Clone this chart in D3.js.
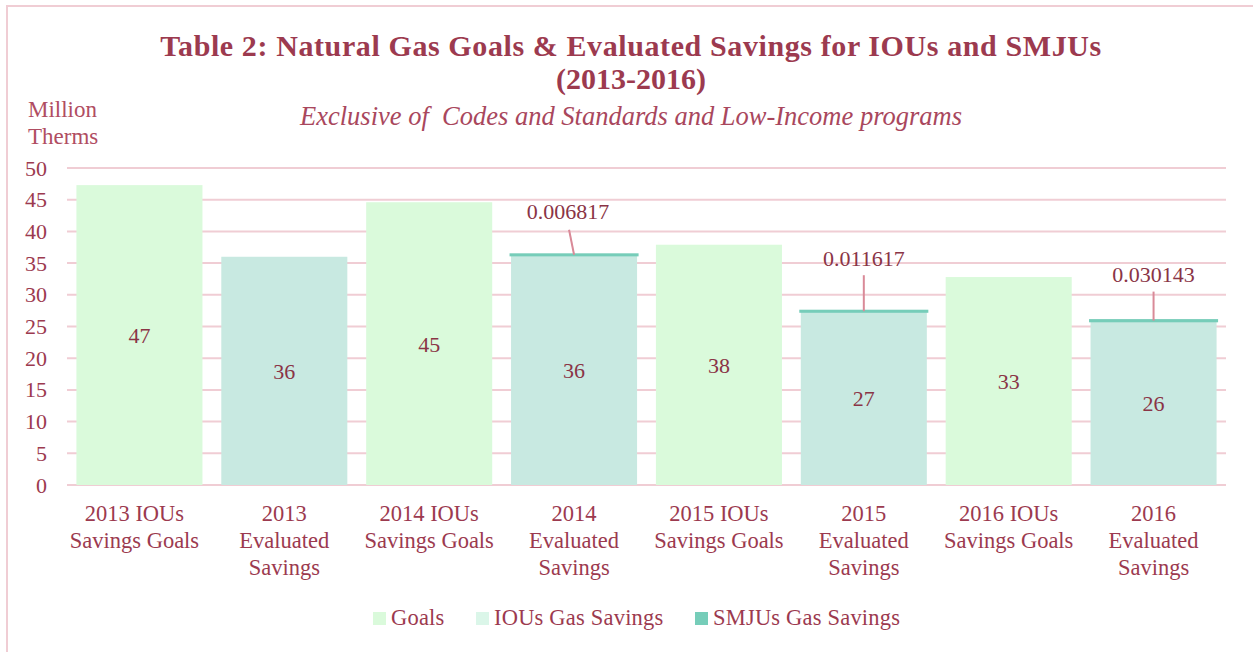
<!DOCTYPE html>
<html>
<head>
<meta charset="utf-8">
<script src="https://cdn.jsdelivr.net/npm/d3@7"></script>
<style>
  body { margin: 0; background: #fff; }
  svg text { font-family: "Liberation Serif", "DejaVu Serif", serif; }
</style>
</head>
<body>
<div id="chart"></div>
<script>
// data
var categories = ["2013 IOUs Savings Goals", "2013 Evaluated Savings", "2014 IOUs Savings Goals", "2014 Evaluated Savings",
                  "2015 IOUs Savings Goals", "2015 Evaluated Savings", "2016 IOUs Savings Goals", "2016 Evaluated Savings"];
var catLines = [["2013 IOUs", "Savings Goals"], ["2013", "Evaluated", "Savings"], ["2014 IOUs", "Savings Goals"], ["2014", "Evaluated", "Savings"],
                ["2015 IOUs", "Savings Goals"], ["2015", "Evaluated", "Savings"], ["2016 IOUs", "Savings Goals"], ["2016", "Evaluated", "Savings"]];
var goals = [47.3, 0, 44.6, 0, 37.9, 0, 32.8, 0];
var iousSavings = [0, 36.0, 0, 36.3, 0, 27.4, 0, 25.9];
var smjusSavings = [0, 0, 0, 0.006817, 0, 0.011617, 0, 0.030143];
var yTicks = [0, 5, 10, 15, 20, 25, 30, 35, 40, 45, 50];
var seriesNames = ["Goals", "IOUs Gas Savings", "SMJUs Gas Savings"];

var W = 1253, H = 652;
var margin = {top: 168, right: 27, bottom: 167, left: 67};
var width = W - margin.left - margin.right;
var height = H - margin.top - margin.bottom;

var textColor = "#9c3a4f";
var gridColor = "#f0cdd4";
var colGoals = "#dafadb", colIous = "#c8e9e1", colIousKey = "#dbf6e9", colSmju = "#76cdb9";

var svg = d3.select("#chart").append("svg")
  .attr("width", W).attr("height", H);

// outer frame
svg.append("rect")
  .attr("x", 7).attr("y", 6).attr("width", W).attr("height", H)
  .attr("fill", "none").attr("stroke", "#f0cdd4").attr("stroke-width", 2);

var g = svg.append("g").attr("transform", "translate(" + margin.left + "," + margin.top + ")");

var x = d3.scaleBand().domain(categories).range([0, width]).paddingInner(0.13).paddingOuter(0.065);
var y = d3.scaleLinear().domain([0, 50]).range([height, 0]);

// gridlines
g.selectAll(".grid").data(yTicks).enter().append("line")
  .attr("x1", 0).attr("x2", width)
  .attr("y1", function(d) { return y(d); }).attr("y2", function(d) { return y(d); })
  .attr("stroke", gridColor).attr("stroke-width", 2);

// y axis labels
var yAxis = g.append("g")
  .call(d3.axisLeft(y).tickValues(yTicks).tickSize(0).tickPadding(20));
yAxis.select(".domain").remove();
yAxis.selectAll("text")
  .style("font-size", "22px").style("fill", textColor)
  .style("font-family", "'Liberation Serif', serif");

// bars
var data = categories.map(function(c, i) {
  return {cat: c, goal: goals[i], ious: iousSavings[i], smju: smjusSavings[i]};
});

g.selectAll(".goal").data(data.filter(function(d) { return d.goal > 0; })).enter().append("rect")
  .attr("x", function(d) { return x(d.cat); })
  .attr("width", x.bandwidth())
  .attr("y", function(d) { return y(d.goal); })
  .attr("height", function(d) { return y(0) - y(d.goal); })
  .attr("fill", colGoals);

g.selectAll(".ious").data(data.filter(function(d) { return d.ious > 0; })).enter().append("rect")
  .attr("x", function(d) { return x(d.cat); })
  .attr("width", x.bandwidth())
  .attr("y", function(d) { return y(d.ious); })
  .attr("height", function(d) { return y(0) - y(d.ious); })
  .attr("fill", colIous);

var smjuData = data.filter(function(d) { return d.smju > 0; });
g.selectAll(".smju").data(smjuData).enter().append("rect")
  .attr("x", function(d) { return x(d.cat); })
  .attr("width", x.bandwidth())
  .attr("y", function(d) { return y(d.ious + d.smju); })
  .attr("height", function(d) { return y(d.ious) - y(d.ious + d.smju); })
  .attr("fill", colSmju).attr("stroke", colSmju).attr("stroke-width", 3);

// value labels inside bars
g.selectAll(".val").data(data).enter().append("text")
  .attr("x", function(d) { return x(d.cat) + x.bandwidth() / 2; })
  .attr("y", function(d) { var v = d.goal + d.ious; return y(v / 2) + 8; })
  .attr("text-anchor", "middle")
  .style("font-size", "22px").style("fill", "#8a3446")
  .text(function(d) { return d3.format(".0f")(d.goal + d.ious); });

// callouts for SMJU values
var callOffsets = [{dx: -5, dy: -25, ty: -36, tx: -6}, {dx: 0, dy: -36, ty: -45, tx: 0}, {dx: 0, dy: -29, ty: -39, tx: 0}];
smjuData.forEach(function(d, i) {
  var cx = x(d.cat) + x.bandwidth() / 2;
  var top = y(d.ious + d.smju);
  g.append("line")
    .attr("x1", cx).attr("y1", top)
    .attr("x2", cx + callOffsets[i].dx).attr("y2", top + callOffsets[i].dy)
    .attr("stroke", "#d98a98").attr("stroke-width", 2);
  g.append("text")
    .attr("x", cx + callOffsets[i].tx).attr("y", top + callOffsets[i].ty)
    .attr("text-anchor", "middle")
    .style("font-size", "22px").style("fill", "#8a3446")
    .text(d.smju);
});

// x labels
var xl = g.selectAll(".xl").data(categories).enter().append("text")
  .attr("x", function(d) { return x(d) + x.bandwidth() / 2; })
  .attr("y", height + 36)
  .attr("text-anchor", "middle")
  .style("font-size", "22.5px").style("fill", textColor);
xl.each(function(d, i) {
  var t = d3.select(this);
  var cx = x(d) + x.bandwidth() / 2 - (i === 0 ? 5 : 0);
  catLines[i].forEach(function(l, j) {
    t.append("tspan").attr("x", cx).attr("dy", j === 0 ? 0 : 27).text(l);
  });
});

// titles
svg.append("text").attr("x", 631).attr("y", 56).attr("text-anchor", "middle")
  .style("font-size", "30px").style("font-weight", "bold").style("fill", textColor)
  .style("letter-spacing", "0.6px")
  .text("Table 2: Natural Gas Goals & Evaluated Savings for IOUs and SMJUs");
svg.append("text").attr("x", 631).attr("y", 89).attr("text-anchor", "middle")
  .style("font-size", "30px").style("font-weight", "bold").style("fill", textColor)
  .text("(2013-2016)");
svg.append("text").attr("x", 631).attr("y", 125).attr("text-anchor", "middle")
  .style("font-size", "26.5px").style("font-style", "italic").style("fill", "#a9475d")
  .style("white-space", "pre")
  .text("Exclusive of  Codes and Standards and Low-Income programs");

// y axis title
svg.append("text").attr("x", 28).attr("y", 117)
  .style("font-size", "23px").style("fill", "#b04d62").text("Million");
svg.append("text").attr("x", 28).attr("y", 144)
  .style("font-size", "23px").style("fill", "#b04d62").text("Therms");

// legend
var legendX = [373, 476, 695];
var legendCols = [colGoals, colIousKey, colSmju];
var lg = svg.selectAll(".lg").data(seriesNames).enter().append("g")
  .attr("transform", function(d, i) { return "translate(" + legendX[i] + ",612)"; });
lg.append("rect").attr("width", 13).attr("height", 13)
  .attr("fill", function(d, i) { return legendCols[i]; });
lg.append("text").attr("x", 18).attr("y", 13)
  .style("font-size", "22.5px").style("fill", textColor)
  .style("letter-spacing", "0.2px")
  .text(function(d) { return d; });
</script>
</body>
</html>
